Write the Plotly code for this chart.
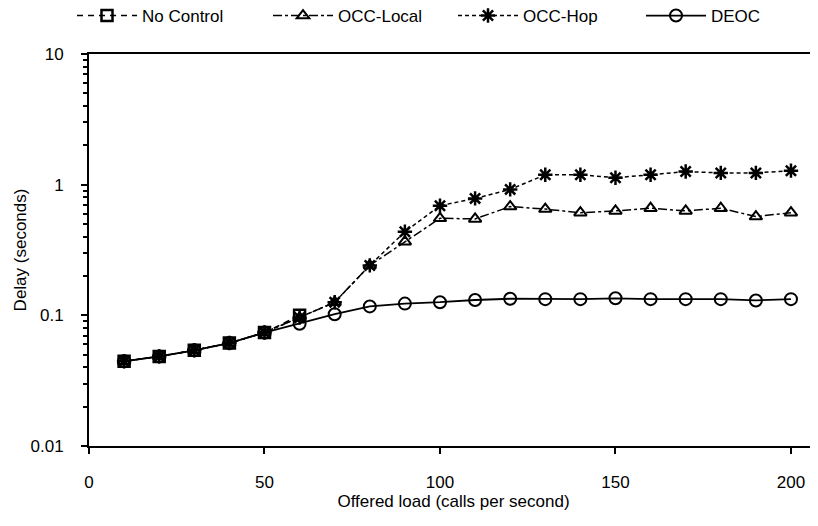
import plotly.graph_objects as go

load = [10, 20, 30, 40, 50, 60, 70, 80, 90, 100, 110, 120, 130, 140, 150, 160, 170, 180, 190, 200]

no_control_x = [10, 20, 30, 40, 50, 60]
no_control = [0.0445, 0.0485, 0.054, 0.0614, 0.0738, 0.100]

occ_local = [0.0445, 0.0485, 0.054, 0.0614, 0.0738, 0.096, 0.126, 0.241, 0.366, 0.553,
             0.547, 0.68, 0.65, 0.61, 0.63, 0.66, 0.63, 0.66, 0.57, 0.61]
occ_hop = [0.0445, 0.0485, 0.054, 0.0614, 0.0738, 0.096, 0.126, 0.241, 0.436, 0.69,
           0.785, 0.92, 1.19, 1.19, 1.13, 1.19, 1.26, 1.23, 1.23, 1.28]
deoc = [0.0445, 0.0485, 0.054, 0.0614, 0.0738, 0.0863, 0.102, 0.117, 0.123, 0.126,
        0.131, 0.134, 0.133, 0.133, 0.135, 0.133, 0.133, 0.133, 0.130, 0.133]

y_ticks = [0.01, 0.1, 1, 10]
y_tick_text = ["0.01", "0.1", "1", "10"]
x_ticks = [0, 50, 100, 150, 200]

# page has an 8px body margin, so the figure is sized to fill the rest of the window
W, H = 810, 518
FONT = "Liberation Sans, Arial, sans-serif"

fig = go.Figure()

fig.add_trace(go.Scatter(
    x=no_control_x, y=no_control, name="No Control", mode="lines+markers",
    line=dict(color="black", width=1.5, dash="6px,5px"),
    marker=dict(symbol="square-open", size=11, color="black", line=dict(width=2.5)),
    legend="legend", showlegend=True))
fig.add_trace(go.Scatter(
    x=load, y=occ_local, name="OCC-Local", mode="lines+markers",
    line=dict(color="black", width=1.5, dash="dashdot"),
    marker=dict(symbol="triangle-up-open", size=11, color="black", line=dict(width=2)),
    legend="legend2", showlegend=True))
fig.add_trace(go.Scatter(
    x=load, y=occ_hop, name="OCC-Hop", mode="lines+markers",
    line=dict(color="black", width=1.5, dash="4px,3px"),
    marker=dict(symbol="asterisk-open", size=12, color="black", line=dict(width=2.5, color="black")),
    legend="legend3", showlegend=True))
fig.add_trace(go.Scatter(
    x=load, y=deoc, name="DEOC", mode="lines+markers",
    line=dict(color="black", width=1.8),
    marker=dict(symbol="circle-open", size=12, color="black", line=dict(width=2)),
    legend="legend4", showlegend=True))

def leg(px):
    return dict(xref="container", yref="container", x=px / W, y=1 - 8 / H,
                xanchor="left", yanchor="middle", orientation="h",
                bgcolor="rgba(0,0,0,0)", itemwidth=60, visible=True,
                font=dict(family=FONT, size=17, color="black"))

fig.update_layout(
    width=W, height=H, showlegend=True,
    margin=dict(l=81, r=0, t=46, b=80, autoexpand=False),
    paper_bgcolor="white", plot_bgcolor="white",
    font=dict(family=FONT, size=17, color="black"),
    legend=leg(64), legend2=leg(260), legend3=leg(445), legend4=leg(633),
)

fig.update_xaxes(
    range=[0, 207.7], tickvals=x_ticks, showgrid=False, zeroline=False,
    showline=True, linecolor="black", linewidth=2, mirror=True,
    ticks="outside", ticklen=6, tickwidth=2, tickcolor="black",
    ticklabelstandoff=14, automargin=False,
    title=dict(text="Offered load (calls per second)", standoff=4,
               font=dict(family=FONT, size=17)),
)
fig.update_yaxes(
    type="log", range=[-2, 1], tickvals=y_ticks, ticktext=y_tick_text,
    showgrid=False, zeroline=False,
    showline=True, linecolor="black", linewidth=2,
    ticks="outside", ticklen=6, tickwidth=2, tickcolor="black",
    ticklabelstandoff=14, automargin=False,
    minor=dict(ticks="outside", ticklen=4, tickwidth=1.5, tickcolor="black", dtick="D1", showgrid=False),
    title=dict(text="Delay (seconds)", standoff=0, font=dict(family=FONT, size=17)),
)

fig.write_html("out.html")
